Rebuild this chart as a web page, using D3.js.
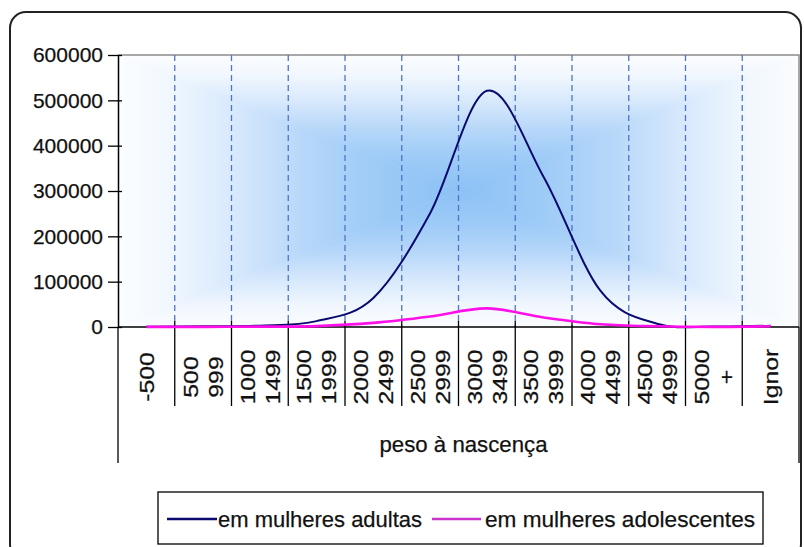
<!DOCTYPE html>
<html>
<head>
<meta charset="utf-8">
<script src="https://cdn.jsdelivr.net/npm/d3@7"></script>
<style>
    body {margin: 0; background: #fff;}
    svg {display: block; font-family: "Liberation Sans", Arial, sans-serif;}
    text {stroke: #111; stroke-width: 0.25;}
</style>
</head>
<body>
<svg id="chart" width="804" height="547"></svg>
<script>
// categories of birth weight (g), two-line labels split on the space
var categories = ["-500", "500 999", "1000 1499", "1500 1999", "2000 2499", "2500 2999",
                  "3000 3499", "3500 3999", "4000 4499", "4500 4999", "5000 +", "Ignor"];
var adultas = [500, 1500, 3000, 13000, 64000, 251000, 521000, 331000, 80000, 7000, 1000, 3000];
var adolescentes = [200, 300, 800, 2000, 9000, 23000, 41000, 21000, 6000, 1500, 300, 1500];
var yTicks = [0, 100000, 200000, 300000, 400000, 500000, 600000];
var axisTitle = "peso à nascença";
var seriesNames = ["em mulheres adultas", "em mulheres adolescentes"];

var svg = d3.select("#chart");
var L = 118, R = 799, T = 55, B = 327;

var x = d3.scaleBand().domain(categories).range([L, R]).padding(0);
var y = d3.scaleLinear().domain([0, 600000]).range([B, T]);
var cx = function (d, i) { return x(categories[i]) + x.bandwidth() / 2; };

// outer rounded frame
svg.append("rect")
    .attr("x", 10).attr("y", 12)
    .attr("width", 791).attr("height", 548)
    .attr("rx", 16)
    .attr("fill", "#fff")
    .attr("stroke", "#222")
    .attr("stroke-width", 2);

// rectangular "from centre" fill, built from four triangles
var defs = svg.append("defs");
var stops = [[0, "#fbfdff"], [0.15, "#f1f7fe"], [0.35, "#d6e8fc"],
             [0.55, "#b6d7f9"], [0.75, "#9ecbf7"], [1, "#8cc1f5"]];
var mx = (L + R) / 2, my = (T + B) / 2;
var tris = [
    {id: "gTop", pts: [[L, T], [R, T], [mx, my]], g: [mx, T, mx, my]},
    {id: "gBot", pts: [[L, B], [R, B], [mx, my]], g: [mx, B, mx, my]},
    {id: "gLeft", pts: [[L, T], [L, B], [mx, my]], g: [L, my, mx, my]},
    {id: "gRight", pts: [[R, T], [R, B], [mx, my]], g: [R, my, mx, my]}
];
tris.forEach(function (t) {
    var grad = defs.append("linearGradient")
        .attr("id", t.id)
        .attr("gradientUnits", "userSpaceOnUse")
        .attr("x1", t.g[0]).attr("y1", t.g[1])
        .attr("x2", t.g[2]).attr("y2", t.g[3]);
    grad.selectAll("stop").data(stops).enter()
        .append("stop")
        .attr("offset", function (d) {return d[0]})
        .attr("stop-color", function (d) {return d[1]});
});
svg.append("g").selectAll("polygon").data(tris).enter()
    .append("polygon")
    .attr("points", function (d) {return d.pts.join(" ")})
    .attr("fill", function (d) {return "url(#" + d.id + ")"})
    .attr("stroke", function (d) {return "url(#" + d.id + ")"})
    .attr("stroke-width", 0.6);

// plot border (top and right)
svg.append("path")
    .attr("d", "M" + L + "," + T + "H" + R + "V" + B)
    .attr("fill", "none")
    .attr("stroke", "#8a8a8a")
    .attr("stroke-width", 1.5);

// dashed vertical gridlines between categories
var bounds = categories.slice(1).map(function (c) {return x(c)});
svg.append("g").selectAll("line").data(bounds).enter()
    .append("line")
    .attr("x1", function (d) {return d}).attr("x2", function (d) {return d})
    .attr("y1", T).attr("y2", B)
    .attr("stroke", "#4f74c8")
    .attr("stroke-width", 1.3)
    .attr("stroke-dasharray", "6,4");

// category separators below the axis
svg.append("g").selectAll("line").data(bounds).enter()
    .append("line")
    .attr("x1", function (d) {return d}).attr("x2", function (d) {return d})
    .attr("y1", B - 6).attr("y2", 406)
    .attr("stroke", "#000")
    .attr("stroke-width", 1.3);
svg.append("g").selectAll("line").data([L, R]).enter()
    .append("line")
    .attr("x1", function (d) {return d}).attr("x2", function (d) {return d})
    .attr("y1", B).attr("y2", 463)
    .attr("stroke", "#000")
    .attr("stroke-width", 1.3);

// category labels, rotated, one column per line
var labels = svg.append("g")
    .attr("font-size", 21)
    .attr("fill", "#111");
categories.forEach(function (c, i) {
    var parts = c.split(" ");
    parts.forEach(function (p, j) {
        var px = cx(null, i) + (j - (parts.length - 1) / 2) * 25;
        labels.append("text")
            .attr("transform", "translate(" + px + ",377) rotate(-90) scale(1.18,1)")
            .attr("text-anchor", "middle")
            .attr("dy", "0.35em")
            .text(p);
    });
});

svg.append("text")
    .attr("x", (L + R) / 2 + 5)
    .attr("y", 452)
    .attr("text-anchor", "middle")
    .attr("font-size", 22.5)
    .attr("textLength", 168)
    .attr("lengthAdjust", "spacingAndGlyphs")
    .attr("fill", "#111")
    .text(axisTitle);

// x axis line
svg.append("line")
    .attr("x1", L).attr("x2", R)
    .attr("y1", B).attr("y2", B)
    .attr("stroke", "#000")
    .attr("stroke-width", 1.5);

// y axis
var yAxis = svg.append("g")
    .attr("transform", "translate(" + L + ",0)")
    .call(d3.axisLeft(y).tickValues(yTicks).tickFormat(d3.format("d"))
        .tickSize(10).tickSizeOuter(0).tickPadding(5));
yAxis.select(".domain").attr("stroke", "#000").attr("stroke-width", 1.5);
yAxis.selectAll(".tick line").attr("x1", 4).attr("stroke", "#000").attr("stroke-width", 1.3);
yAxis.selectAll(".tick text")
    .attr("font-size", 21)
    .attr("font-family", "'Liberation Sans', Arial, sans-serif")
    .attr("fill", "#111");

// series lines
var line = d3.line()
    .x(cx)
    .y(function (d) {return y(d)})
    .curve(d3.curveCardinal.tension(0));

svg.append("path")
    .datum(adultas)
    .attr("d", line)
    .attr("fill", "none")
    .attr("stroke", "#0a0a6e")
    .attr("stroke-width", 2);

svg.append("path")
    .datum(adolescentes)
    .attr("d", line)
    .attr("fill", "none")
    .attr("stroke", "#ff10e8")
    .attr("stroke-width", 2.6);

// legend
var lg = svg.append("g");
lg.append("rect")
    .attr("x", 158).attr("y", 492)
    .attr("width", 605).attr("height", 52)
    .attr("fill", "#fff")
    .attr("stroke", "#000")
    .attr("stroke-width", 1.3);
var items = [
    {name: seriesNames[0], color: "#0a0a6e", x0: 167, x1: 217, tx: 218, tl: 204},
    {name: seriesNames[1], color: "#cc33cc", x0: 432, x1: 481, tx: 485, tl: 270}
];
items.forEach(function (it) {
    lg.append("line")
        .attr("x1", it.x0).attr("x2", it.x1)
        .attr("y1", 519).attr("y2", 519)
        .attr("stroke", it.color)
        .attr("stroke-width", 2.6);
    lg.append("text")
        .attr("x", it.tx).attr("y", 527)
        .attr("font-size", 22.5)
        .attr("textLength", it.tl)
        .attr("lengthAdjust", "spacingAndGlyphs")
        .attr("fill", "#111")
        .text(it.name);
});
</script>
</body>
</html>
